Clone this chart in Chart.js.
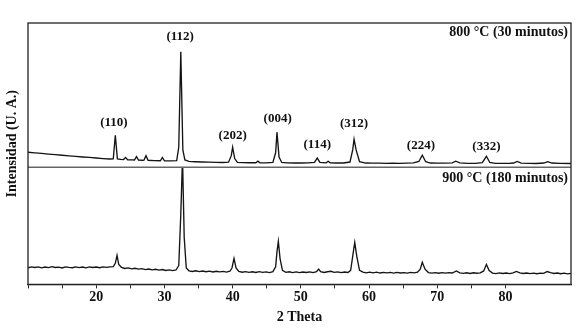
<!DOCTYPE html>
<html>
<head>
<meta charset="utf-8">
<script src="https://cdn.jsdelivr.net/npm/chart.js@4.4.1/dist/chart.umd.min.js"></script>
<style>
html,body{margin:0;padding:0;background:#fff;}
#wrap{width:580px;height:330px;position:relative;}
</style>
</head>
<body>
<div id="wrap"><canvas id="c" width="580" height="330"></canvas></div>
<script>
// ---- Data (2θ in degrees, intensity in arbitrary units) ----
const theta800 = [10, 11, 12, 13, 14, 15, 16, 17, 18, 19,
  20, 21, 22, 22.5, 22.8, 23.1, 23.6, 24.0, 24.3, 24.6,
  25.2, 25.6, 25.9, 26.2, 26.8, 27.0, 27.3, 27.6, 28.5, 29.4,
  29.7, 30.0, 31.0, 31.8, 32.1, 32.4, 32.7, 33.0, 33.6, 34.5,
  35.5, 36.5, 37.5, 38.5, 39.4, 39.8, 40.0, 40.3, 40.7, 41.5,
  42.5, 43.4, 43.7, 44.0, 45.0, 45.9, 46.3, 46.5, 46.8, 47.2,
  48, 49, 50, 51, 52.0, 52.4, 52.8, 53.7, 54.0, 54.3,
  55.2, 56.2, 57.2, 57.6, 57.8, 58.1, 58.6, 59.5, 60.5, 61.5,
  62.5, 63.5, 64.5, 65.5, 66.5, 67.3, 67.8, 68.3, 69, 70,
  71, 72.2, 72.7, 73.3, 74.5, 75.5, 76.6, 77.2, 77.7, 78.5,
  79.5, 80.5, 81.2, 81.7, 82.3, 83.5, 84.5, 85.6, 86.2, 86.8,
  88, 89.6];
const int800 = [10.4, 10.0, 9.6, 9.1, 8.7, 8.3, 7.9, 7.5, 7.1, 6.8,
  6.4, 6.0, 5.7, 5.8, 22.2, 5.8, 5.4, 5.3, 6.8, 5.2,
  5.1, 5.0, 7.4, 5.0, 4.8, 4.9, 8.0, 4.8, 4.6, 4.5,
  6.8, 4.5, 4.4, 4.6, 14, 80, 12, 5.0, 4.0, 3.8,
  3.6, 3.5, 3.4, 3.3, 3.5, 8, 13.9, 6, 3.4, 3.2,
  3.1, 3.1, 4.2, 3.1, 3.0, 3.3, 10, 24.3, 7, 3.3,
  3.0, 2.9, 2.9, 3.0, 3.3, 6.3, 3.3, 3.0, 4.1, 3.0,
  2.9, 2.9, 3.6, 12, 19.4, 12, 3.8, 2.9, 2.8, 2.8,
  2.7, 2.8, 2.7, 2.8, 3.0, 4.0, 8.3, 3.8, 2.9, 2.8,
  2.8, 3.0, 4.2, 3.0, 2.7, 2.7, 3.2, 7.6, 3.3, 2.7,
  2.7, 2.7, 2.9, 4.0, 2.8, 2.7, 2.6, 2.9, 3.9, 2.9,
  2.7, 2.6];

const theta900 = [10, 10.5, 11, 11.5, 12, 12.5, 13, 13.5, 14, 14.5,
  15, 15.5, 16, 16.5, 17, 17.5, 18, 18.5, 19, 19.5,
  20, 20.5, 21, 21.5, 22, 22.5, 22.8, 23.05, 23.3, 23.7,
  24.2, 24.7, 25.2, 25.7, 26.2, 26.7, 27.2, 27.7, 28.2, 28.7,
  29.2, 29.7, 30.2, 30.7, 31.2, 31.7, 32.1, 32.4, 32.65, 32.9,
  33.2, 33.6, 34.1, 34.6, 35.1, 35.6, 36.1, 36.6, 37.1, 37.6,
  38.1, 38.6, 39.1, 39.6, 39.9, 40.2, 40.5, 40.9, 41.4, 41.9,
  42.4, 42.9, 43.4, 43.9, 44.4, 44.9, 45.4, 45.9, 46.3, 46.5,
  46.7, 46.95, 47.3, 47.8, 48.3, 48.8, 49.3, 49.8, 50.3, 50.8,
  51.3, 51.8, 52.3, 52.6, 52.9, 53.4, 53.9, 54.4, 54.9, 55.4,
  55.9, 56.4, 56.9, 57.3, 57.65, 57.9, 58.2, 58.6, 59.1, 59.6,
  60.1, 60.6, 61.1, 61.6, 62.1, 62.6, 63.1, 63.6, 64.1, 64.6,
  65.1, 65.6, 66.1, 66.6, 67.1, 67.5, 67.8, 68.2, 68.7, 69.2,
  69.7, 70.2, 70.7, 71.2, 71.7, 72.2, 72.8, 73.3, 73.8, 74.3,
  74.8, 75.3, 75.8, 76.3, 76.8, 77.2, 77.6, 78.1, 78.6, 79.1,
  79.6, 80.1, 80.6, 81.1, 81.6, 82.1, 82.6, 83.1, 83.6, 84.1,
  84.6, 85.1, 85.6, 86.1, 86.6, 87.1, 87.6, 88.1, 88.6, 89.1,
  89.6];
const int900 = [14.2, 15.0, 14.4, 14.9, 14.1, 14.8, 14.3, 15.1, 14.4, 14.7,
  14.0, 14.9, 14.5, 14.2, 15.0, 14.3, 14.8, 14.1, 14.9, 14.4,
  14.8, 14.2, 15.0, 14.5, 14.9, 15.2, 18, 24.8, 17, 14.6,
  13.6, 14.1, 13.3, 13.8, 13.0, 13.4, 12.6, 13.1, 12.4, 12.9,
  12.2, 12.7, 11.9, 12.4, 11.8, 12.3, 16, 60, 108, 40,
  14, 11.6, 11.0, 11.6, 10.9, 11.4, 10.8, 11.3, 10.6, 11.2,
  10.7, 11.1, 10.5, 11.2, 14, 22.2, 14, 11.0, 10.4, 10.9,
  10.3, 10.8, 10.2, 10.9, 10.3, 10.7, 10.1, 10.9, 15, 28,
  36.8, 22, 12, 10.3, 10.8, 10.1, 10.7, 10.0, 10.6, 10.2,
  10.7, 10.1, 10.9, 13.1, 10.8, 10.2, 10.8, 11.2, 10.3, 10.7,
  10.0, 10.6, 10.2, 12, 26, 35.9, 24, 12, 10.4, 9.9,
  10.5, 9.8, 10.4, 9.7, 10.3, 9.8, 10.2, 9.6, 10.3, 9.7,
  10.1, 9.6, 10.2, 9.8, 10.4, 13, 18.8, 13, 10.1, 9.6,
  10.1, 9.5, 10.0, 9.6, 10.1, 9.7, 11.5, 9.9, 9.4, 9.9,
  9.3, 9.9, 9.5, 9.8, 11.5, 17.1, 11.8, 9.6, 9.2, 9.8,
  9.3, 9.7, 9.2, 9.8, 11.1, 9.9, 9.3, 9.7, 9.2, 9.6,
  9.1, 9.6, 9.4, 11.0, 10.0, 9.3, 9.7, 9.1, 9.6, 9.0,
  9.4];

// Miller index labels for the 800 °C pattern (position in 2θ, height in a.u.)
const hklLabels = ['(110)', '(112)', '(202)', '(004)', '(114)', '(312)', '(224)', '(332)'];
const hklTheta  = [22.6, 32.3, 40.0, 46.6, 52.4, 57.8, 67.6, 77.2];
const hklHeight = [30.6, 90.3, 22.2, 34.0, 16.0, 29.9, 15.3, 14.6];

const panelLabels = ['800 °C (30 minutos)', '900 °C (180 minutos)'];
const xTickLabels = [20, 30, 40, 50, 60, 70, 80];
const xAxisTitle = '2 Theta';
const yAxisTitle = 'Intensidad (U. A.)';

const FONT = '"Liberation Serif", "Times New Roman", serif';

function pairs(xs, ys) { return xs.map((x, i) => ({x: x, y: ys[i]})); }

const decorPlugin = {
  id: 'decor',
  afterDatasetsDraw(chart) {
    const ctx = chart.ctx;
    const a = chart.chartArea;
    const x = chart.scales.x;
    const yTop = chart.scales.yTop;
    const yBot = chart.scales.yBot;
    ctx.save();
    // divider between panels
    ctx.strokeStyle = '#666';
    ctx.lineWidth = 1.6;
    ctx.beginPath();
    ctx.moveTo(a.left, yTop.bottom);
    ctx.lineTo(a.right, yTop.bottom);
    ctx.stroke();
    // frame
    ctx.strokeStyle = '#222';
    ctx.lineWidth = 1.3;
    ctx.strokeRect(a.left, a.top, a.right - a.left, a.bottom - a.top);
    // hkl labels
    ctx.fillStyle = '#111';
    ctx.font = 'bold 13px ' + FONT;
    ctx.textAlign = 'center';
    ctx.textBaseline = 'middle';
    hklLabels.forEach((t, i) => {
      ctx.fillText(t, x.getPixelForValue(hklTheta[i]), yTop.getPixelForValue(hklHeight[i]));
    });
    // panel labels
    ctx.font = 'bold 14px ' + FONT;
    ctx.textAlign = 'right';
    ctx.fillText(panelLabels[0], a.right - 3, yTop.top + 9);
    ctx.fillText(panelLabels[1], a.right - 3, yBot.top + 11);
    // y axis title
    ctx.translate(12, (a.top + a.bottom) / 2 - 10);
    ctx.rotate(-Math.PI / 2);
    ctx.textAlign = 'center';
    ctx.fillText(yAxisTitle, 0, 0);
    ctx.restore();
  }
};

new Chart(document.getElementById('c'), {
  type: 'line',
  data: {
    datasets: [
      { label: panelLabels[0], data: pairs(theta800, int800), xAxisID: 'x', yAxisID: 'yTop',
        borderColor: '#141414', borderWidth: 1.35, pointRadius: 0, tension: 0, fill: false },
      { label: panelLabels[1], data: pairs(theta900, int900), xAxisID: 'x', yAxisID: 'yBot',
        borderColor: '#141414', borderWidth: 1.35, pointRadius: 0, tension: 0, fill: false }
    ]
  },
  options: {
    responsive: false,
    animation: false,
    parsing: true,
    layout: { padding: { left: 28, right: 9, top: 23, bottom: 4 } },
    plugins: { legend: { display: false }, tooltip: { enabled: false } },
    scales: {
      x: {
        type: 'linear', min: 10, max: 89.6,
        afterBuildTicks: s => { s.ticks = s.ticks.filter(t => Math.abs(t.value % 5) < 1e-9); },
        ticks: {
          stepSize: 5, padding: 1, color: '#111', maxRotation: 0, autoSkip: false,
          font: { family: FONT, size: 14, weight: 'bold' },
          callback: v => xTickLabels.includes(v) ? String(v) : ''
        },
        grid: { drawOnChartArea: false, tickLength: 4, color: '#222', tickWidth: 1 },
        border: { display: true, color: '#222', width: 1.3 },
        title: { display: true, text: xAxisTitle, color: '#111', padding: { top: 2, bottom: 0 },
          font: { family: FONT, size: 14, weight: 'bold' } }
      },
      yBot: {
        type: 'linear', position: 'left', stack: 'xrd', stackWeight: 117, display: false,
        min: 0, max: 100
      },
      yTop: {
        type: 'linear', position: 'left', stack: 'xrd', stackWeight: 144, display: false,
        min: 0, max: 100
      }
    }
  },
  plugins: [decorPlugin]
});
</script>
</body>
</html>
